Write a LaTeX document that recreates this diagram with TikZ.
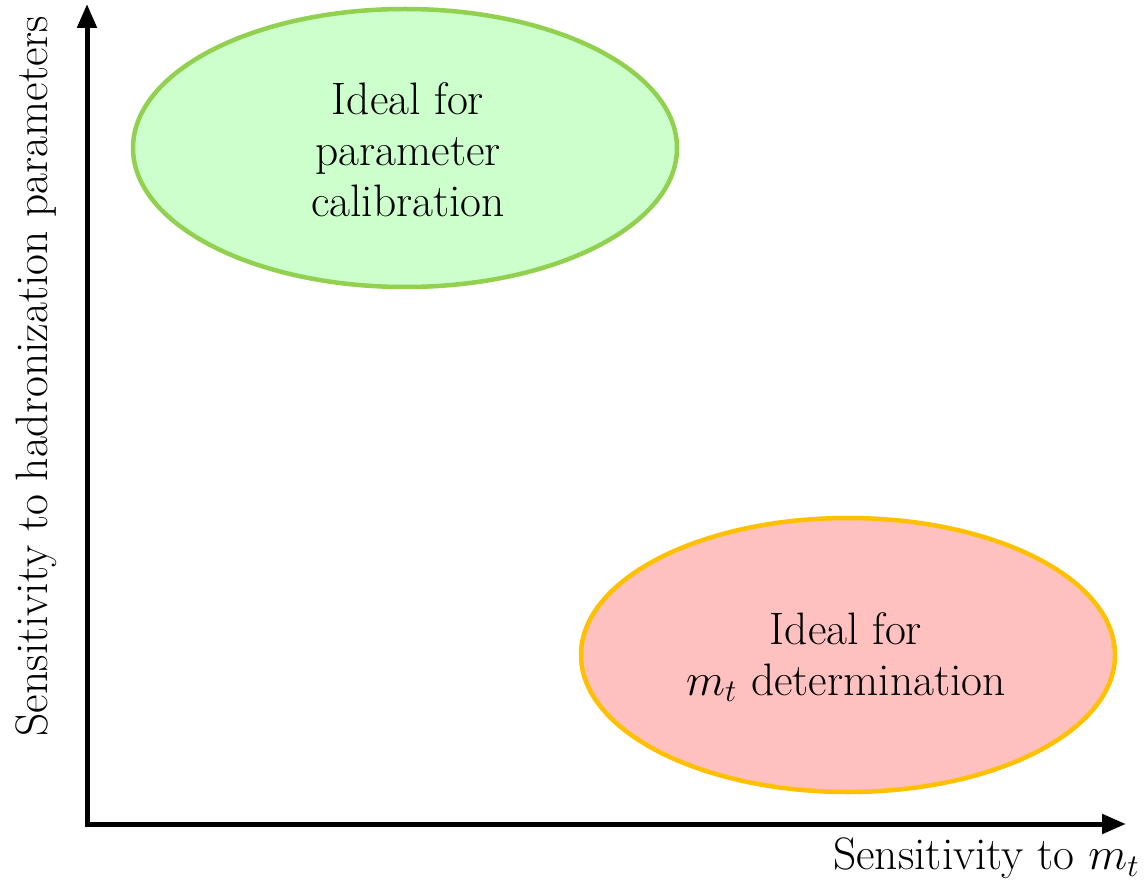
\documentclass[tikz,border=0pt]{standalone}
\usetikzlibrary{arrows.meta}
\definecolor{greenfill}{HTML}{CCFFCC}
\definecolor{greenline}{HTML}{92D050}
\definecolor{pinkfill}{HTML}{FFC0C0}
\definecolor{goldline}{HTML}{FFC000}
\tikzset{
  axis/.style={line width=5pt,-{Triangle[length=24pt,width=19pt]}},
  region/.style={line width=4.5pt},
  lbl/.style={font=\fontsize{20.74}{23.25}\selectfont,align=center,inner sep=0pt,scale=2.194,transform shape},
}
\begin{document}
\begin{tikzpicture}[x=1pt,y=-1pt]
\useasboundingbox (0,0) rectangle (1144,885);
\fill[white] (0,0) rectangle (1144,885);
\coordinate (O) at (87,824);
\coordinate (Ytip) at (87,4);
\coordinate (Xtip) at (1126,824);
\draw[axis] ([yshift=-2.5pt]O) -- (Ytip);
\draw[axis] ([xshift=-2.5pt]O) -- (Xtip);
\draw[region,draw=greenline,fill=greenfill] (405,148) ellipse [x radius=272, y radius=139];
\draw[region,draw=goldline,fill=pinkfill] (848,655) ellipse [x radius=267, y radius=137];
\node[lbl] (calib) at (408,150) {Ideal for\\parameter\\calibration};
\node[lbl] (mtdet) at (846,657) {Ideal for\\$m_t$ determination};
\node[lbl,anchor=east] (xlab) at (1140,858) {Sensitivity to $m_t$};
\node[lbl,rotate=90] (ylab) at (36,376) {Sensitivity to hadronization parameters};
\end{tikzpicture}
\end{document}
